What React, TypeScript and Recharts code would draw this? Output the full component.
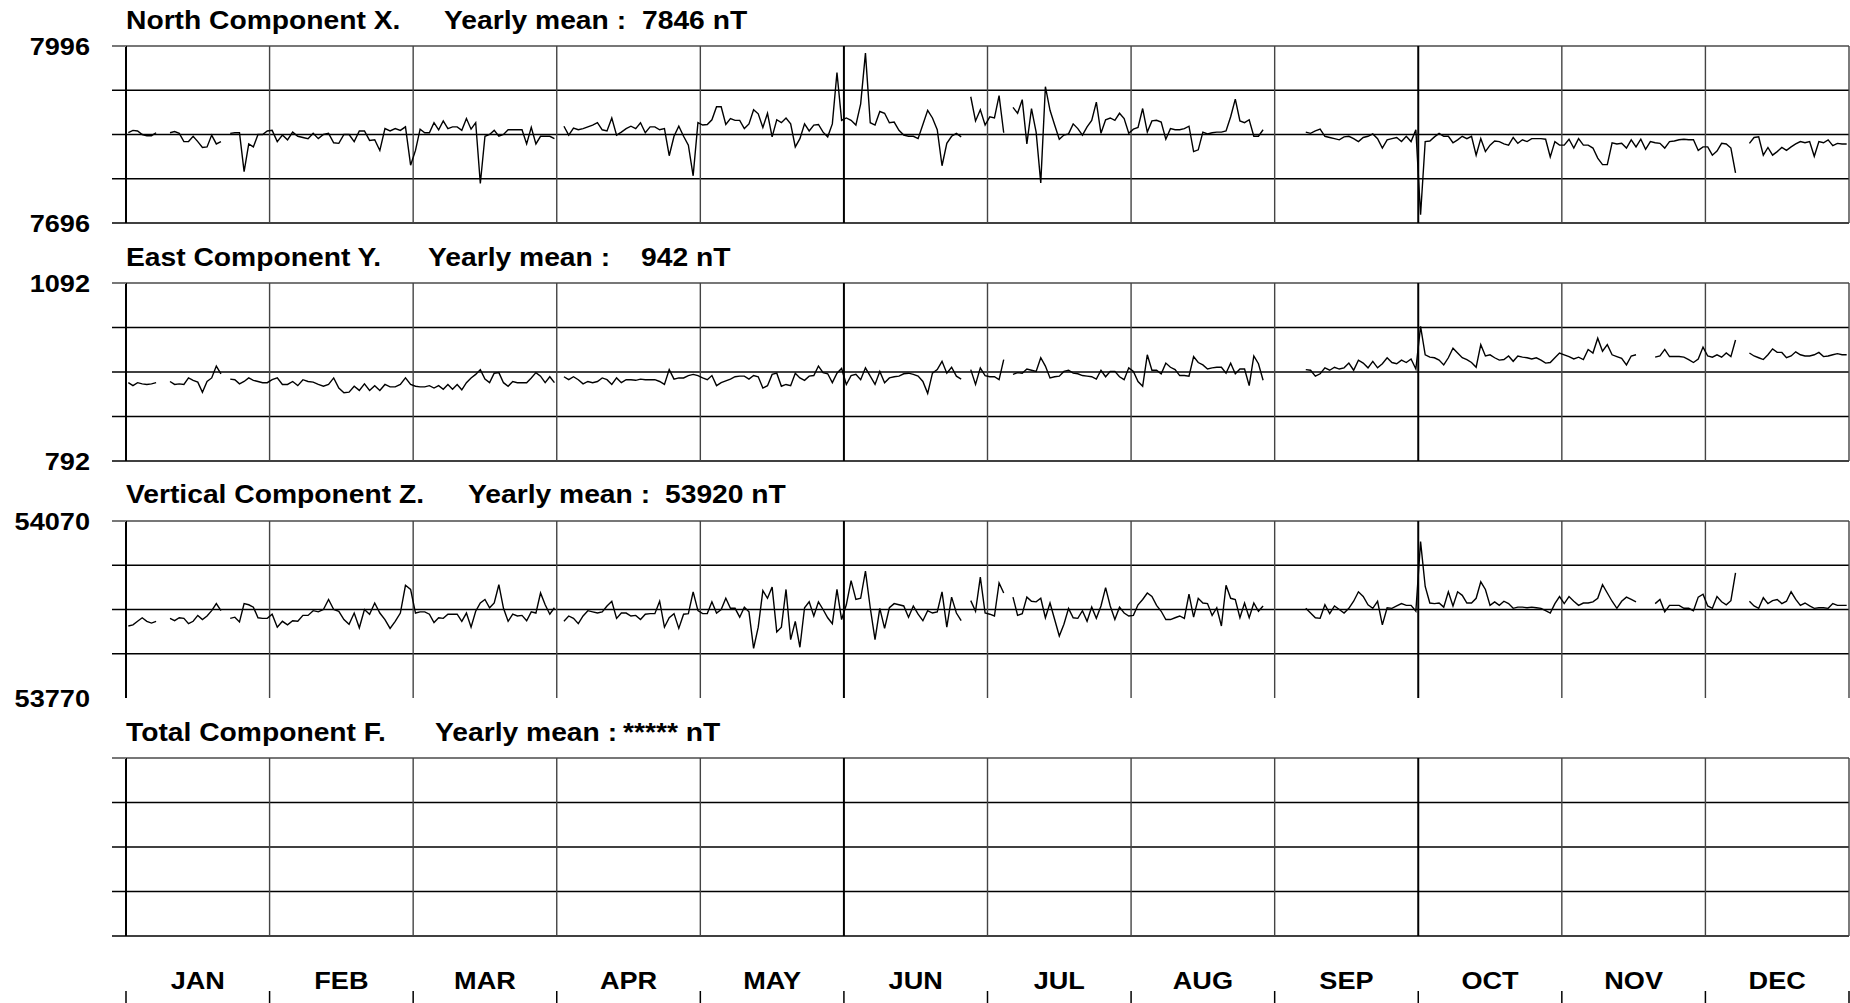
import React from 'react';
import { LineChart, Line, XAxis, YAxis, ReferenceLine } from 'recharts';

// ---------------- data ----------------
const MONTHS = ['JAN', 'FEB', 'MAR', 'APR', 'MAY', 'JUN', 'JUL', 'AUG', 'SEP', 'OCT', 'NOV', 'DEC'];
const DAYS_IN_MONTH = [31, 28, 31, 30, 31, 30, 31, 31, 30, 31, 30, 31];

const TITLES = ['North Component X.', 'East Component Y.', 'Vertical Component Z.', 'Total Component F.'];
const MEAN_LABEL = 'Yearly mean :';
const MEANS = ['7846 nT', '942 nT', '53920 nT', '***** nT'];

const X_SCALE = [7696, 7771, 7846, 7921, 7996];
const Y_SCALE = [792, 867, 942, 1017, 1092];
const Z_SCALE = [53770, 53845, 53920, 53995, 54070];
const F_SCALE = [0, 1, 2, 3, 4];

const N = null;

// daily means, North component X (nT)
const northX: (number | null)[] = [
  // JAN
  7849, 7853, 7852, 7846, 7844, 7844, 7849, N, N, 7849, 7851, 7848, 7834, 7834, 7843, 7834, 7824, 7825, 7845, 7830, 7834, N, 7848, 7849, 7849, 7783, 7830, 7825, 7846, 7846, 7852,
  // FEB
  7853, 7834, 7845, 7837, 7850, 7843, 7841, 7839, 7848, 7839, 7846, 7848, 7832, 7831, 7846, 7846, 7834, 7852, 7852, 7836, 7837, 7819, 7856, 7852, 7856, 7853, 7859, 7794,
  // MAR
  7819, 7855, 7849, 7849, 7866, 7854, 7869, 7856, 7859, 7859, 7853, 7873, 7855, 7866, 7763, 7843, 7846, 7853, 7843, 7846, 7854, 7854, 7854, 7854, 7830, 7858, 7830, 7843, 7843, 7843, 7839,
  // APR
  N, 7860, 7845, 7857, 7854, 7856, 7859, 7862, 7866, 7854, 7852, 7874, 7845, 7850, 7856, 7860, 7856, 7866, 7849, 7859, 7859, 7854, 7856, 7810, 7843, 7860, 7843, 7828, 7776, 7866,
  // MAY
  7862, 7863, 7871, 7893, 7893, 7863, 7873, 7870, 7870, 7856, 7864, 7888, 7881, 7858, 7882, 7842, 7871, 7866, 7874, 7864, 7825, 7839, 7864, 7852, 7862, 7863, 7850, 7842, 7864, 7951, 7870,
  // JUN
  7874, 7870, 7862, 7898, 7984, 7866, 7862, 7885, 7882, 7866, 7867, 7853, 7845, 7843, 7843, 7839, 7863, 7887, 7874, 7854, 7793, 7831, 7843, 7848, 7842, N, 7910, 7869, 7888, 7862,
  // JUL
  7876, 7874, 7912, 7849, N, 7892, 7882, 7905, 7830, 7890, 7850, 7764, 7927, 7887, 7862, 7838, 7845, 7847, 7864, 7856, 7845, 7859, 7870, 7901, 7848, 7871, 7874, 7870, 7882, 7873, 7848,
  // AUG
  7855, 7858, 7890, 7850, 7869, 7870, 7867, 7838, 7856, 7854, 7854, 7856, 7860, 7817, 7820, 7850, 7847, 7849, 7850, 7850, 7852, 7876, 7906, 7869, 7866, 7871, 7843, 7843, 7854, N, N,
  // SEP
  N, N, N, N, N, N, 7850, 7848, 7852, 7855, 7843, 7841, 7839, 7837, 7842, 7843, 7839, 7834, 7841, 7843, 7847, 7839, 7823, 7837, 7839, 7841, 7834, 7843, 7834, 7854,
  // OCT
  7710, 7834, 7835, 7842, 7848, 7843, 7843, 7832, 7837, 7843, 7839, 7843, 7811, 7839, 7817, 7828, 7835, 7834, 7830, 7828, 7841, 7831, 7837, 7834, 7839, 7839, 7839, 7838, 7808, 7834, 7828,
  // NOV
  7828, 7838, 7823, 7839, 7828, 7828, 7823, 7806, 7795, 7795, 7832, 7830, 7831, 7823, 7837, 7825, 7838, 7821, 7834, 7832, 7831, 7823, 7834, 7835, 7837, 7838, 7837, 7837, 7819, 7825,
  // DEC
  7825, 7811, 7818, 7831, 7830, 7823, 7781, N, N, 7831, 7841, 7842, 7811, 7824, 7811, 7817, 7824, 7819, 7825, 7830, 7834, 7832, 7834, 7809, 7834, 7832, 7837, 7827, 7831, 7830, 7830,
];

// daily means, East component Y (nT)
const eastY: (number | null)[] = [
  // JAN
  924, 919, 924, 922, 921, 922, 924, N, N, 926, 921, 922, 921, 932, 928, 925, 908, 926, 932, 952, 939, N, 930, 929, 922, 926, 932, 928, 926, 924, 924,
  // FEB
  929, 932, 921, 921, 926, 919, 929, 926, 925, 921, 918, 921, 932, 915, 907, 908, 918, 911, 922, 911, 919, 911, 921, 917, 917, 921, 932, 921,
  // MAR
  918, 917, 917, 919, 915, 919, 913, 921, 913, 921, 912, 924, 932, 938, 946, 930, 924, 940, 941, 924, 918, 926, 924, 924, 924, 932, 941, 935, 924, 934, 924,
  // APR
  N, 934, 929, 934, 929, 922, 926, 924, 926, 932, 929, 921, 932, 924, 929, 929, 928, 930, 929, 929, 929, 926, 921, 946, 930, 932, 932, 936, 938, 936,
  // MAY
  932, 929, 936, 919, 924, 927, 930, 934, 935, 935, 930, 936, 934, 915, 919, 938, 940, 918, 921, 919, 940, 932, 928, 935, 936, 952, 941, 939, 924, 940, 948,
  // JUN
  921, 936, 938, 929, 949, 935, 921, 943, 924, 932, 934, 935, 939, 940, 938, 935, 926, 906, 940, 946, 960, 940, 950, 935, 930, N, 946, 921, 949, 936,
  // JUL
  934, 934, 929, 963, N, 938, 941, 940, 947, 945, 943, 966, 952, 932, 934, 935, 943, 945, 940, 939, 936, 935, 934, 930, 945, 934, 943, 943, 934, 929, 949,
  // AUG
  943, 926, 918, 971, 945, 945, 939, 957, 950, 946, 936, 936, 935, 968, 958, 954, 947, 949, 950, 950, 940, 957, 939, 947, 947, 919, 969, 956, 928, N, N,
  // SEP
  N, N, N, N, N, N, 946, 945, 935, 939, 949, 945, 950, 947, 949, 957, 945, 962, 957, 949, 960, 949, 956, 966, 958, 956, 962, 958, 964, 947,
  // OCT
  1019, 971, 967, 966, 962, 954, 966, 982, 974, 966, 963, 958, 950, 988, 969, 971, 966, 962, 963, 969, 960, 969, 967, 966, 964, 966, 962, 957, 958, 966, 974,
  // NOV
  971, 968, 964, 967, 963, 980, 974, 999, 977, 988, 971, 968, 965, 954, 969, 971, N, N, N, 967, 969, 980, 968, 968, 968, 967, 963, 958, 964, 984,
  // DEC
  969, 967, 971, 967, 974, 968, 996, N, N, 974, 969, 966, 963, 971, 981, 975, 975, 966, 969, 976, 971, 969, 969, 971, 975, 968, 969, 971, 973, 971, 971,
];

// daily means, Vertical component Z (nT)
const verticalZ: (number | null)[] = [
  // JAN
  53892, 53894, 53900, 53906, 53900, 53897, 53900, N, N, 53905, 53901, 53906, 53905, 53896, 53900, 53910, 53903, 53909, 53918, 53930, 53918, N, 53905, 53907, 53899, 53930, 53928, 53924, 53906, 53905, 53905,
  // FEB
  53912, 53890, 53900, 53894, 53901, 53900, 53910, 53910, 53918, 53916, 53920, 53937, 53920, 53917, 53903, 53895, 53914, 53889, 53920, 53912, 53931, 53914, 53903, 53888, 53900, 53914, 53961, 53954,
  // MAR
  53914, 53916, 53916, 53912, 53898, 53906, 53905, 53912, 53912, 53912, 53900, 53914, 53890, 53917, 53931, 53937, 53923, 53931, 53962, 53922, 53900, 53912, 53909, 53910, 53901, 53916, 53914, 53948, 53928, 53912, 53923,
  // APR
  N, 53900, 53909, 53905, 53896, 53909, 53918, 53916, 53914, 53916, 53926, 53934, 53905, 53914, 53914, 53909, 53910, 53903, 53912, 53913, 53913, 53934, 53890, 53906, 53913, 53888, 53912, 53913, 53950, 53918,
  // MAY
  53913, 53913, 53933, 53914, 53920, 53939, 53922, 53922, 53907, 53924, 53916, 53854, 53890, 53952, 53939, 53958, 53882, 53890, 53954, 53869, 53900, 53856, 53923, 53933, 53909, 53933, 53920, 53906, 53896, 53954, 53903,
  // JUN
  53928, 53969, 53937, 53939, 53985, 53923, 53869, 53922, 53888, 53923, 53930, 53928, 53926, 53907, 53926, 53912, 53901, 53918, 53914, 53916, 53950, 53890, 53941, 53914, 53901, N, 53935, 53917, 53975, 53914,
  // JUL
  53912, 53909, 53965, 53948, N, 53941, 53910, 53913, 53941, 53934, 53933, 53939, 53906, 53931, 53903, 53875, 53895, 53922, 53906, 53905, 53918, 53900, 53924, 53905, 53926, 53957, 53926, 53903, 53924, 53914, 53909,
  // AUG
  53910, 53928, 53937, 53948, 53942, 53927, 53917, 53903, 53903, 53906, 53909, 53905, 53946, 53907, 53939, 53931, 53930, 53910, 53923, 53892, 53961, 53939, 53937, 53906, 53931, 53906, 53931, 53917, 53926, N, N,
  // SEP
  N, N, N, N, N, N, 53922, 53914, 53906, 53905, 53928, 53913, 53926, 53920, 53914, 53922, 53934, 53950, 53942, 53928, 53922, 53934, 53894, 53923, 53922, 53926, 53930, 53927, 53927, 53917,
  // OCT
  54035, 53959, 53931, 53930, 53931, 53924, 53950, 53926, 53950, 53944, 53931, 53931, 53939, 53967, 53954, 53927, 53933, 53927, 53934, 53930, 53922, 53924, 53924, 53923, 53924, 53923, 53922, 53918, 53914, 53930, 53942,
  // NOV
  53930, 53942, 53934, 53927, 53931, 53931, 53933, 53939, 53962, 53948, 53934, 53922, 53934, 53941, 53937, 53933, N, N, N, 53930, 53937, 53916, 53927, 53927, 53927, 53922, 53922, 53918, 53941, 53946,
  // DEC
  53926, 53922, 53942, 53933, 53928, 53935, 53982, N, N, 53934, 53926, 53922, 53940, 53930, 53935, 53937, 53930, 53934, 53950, 53937, 53927, 53931, 53926, 53922, 53923, 53923, 53922, 53930, 53927, 53927, 53927,
];

// Total component F: no data recorded (shown as *****)
const totalF: (number | null)[] = [];

// ---------------- layout / style ----------------
const PAGE_W = 1850;
const PAGE_H = 1003;
const AXIS_W = 126;
const PAD = 12;
const SX = 1.13;
const FONT = '"Liberation Sans", Arial, Helvetica, sans-serif';
const FONT_SIZE = 24;
const TITLE_FONT_SIZE = 25;
const TOP_LINE = '#777';

type Pt = { t: number; v: number | null };

function buildSeries(values: (number | null)[]): Pt[] {
  const out: Pt[] = [];
  let i = 0;
  DAYS_IN_MONTH.forEach((n, m) => {
    for (let d = 0; d < n; d++) {
      const v = values[i];
      out.push({ t: m + (d + 0.5) / n, v: v === undefined ? null : v });
      i++;
    }
  });
  return out;
}

const boundaryTicks = MONTHS.map((_, i) => i).concat([MONTHS.length]);
const allXTicks: number[] = [];
boundaryTicks.forEach((b) => {
  allXTicks.push(b);
  if (b < MONTHS.length) allXTicks.push(b + 0.5);
});

function StretchText(props: {
  x: number;
  y: number;
  anchor?: string;
  dy?: string;
  size?: number;
  children: React.ReactNode;
}) {
  const { x, y, anchor = 'start', dy, size = FONT_SIZE, children } = props;
  return (
    <text
      transform={`translate(${x},${y}) scale(${SX},1)`}
      textAnchor={anchor as any}
      dy={dy}
      fontFamily={FONT}
      fontWeight="bold"
      fontSize={size}
      fill="#000"
    >
      {children}
    </text>
  );
}

const makeYTick = (scale: number[], showLabels: boolean, hideBottom: boolean) => (props: any) => {
  const { x, y, payload } = props;
  const v = payload.value;
  const isTop = v === scale[scale.length - 1];
  const isBottom = v === scale[0];
  const showLine = !(hideBottom && isBottom);
  const showLabel = showLabels && (isTop || isBottom);
  return (
    <g>
      {showLine && (
        <line
          x1={x + 22}
          x2={x + 36}
          y1={y}
          y2={y}
          stroke={isTop ? TOP_LINE : '#000'}
          strokeWidth={isTop ? 2 : 1.5}
        />
      )}
      {showLabel && (
        <StretchText x={x} y={y} anchor="end" dy="0.36em">
          {String(v)}
        </StretchText>
      )}
    </g>
  );
};

const MonthTick = (props: any) => {
  const { x, y, payload } = props;
  const v = payload.value as number;
  if (Number.isInteger(v)) {
    return <line x1={x} x2={x} y1={y + 55} y2={y + 67} stroke="#000" strokeWidth={1.5} />;
  }
  return (
    <StretchText x={x} y={y + 53} anchor="middle">
      {MONTHS[Math.floor(v)]}
    </StretchText>
  );
};

const HEAVY_BOUNDARIES = [0, 5, 9];

function Panel(props: {
  top: number;
  height: number;
  values: (number | null)[];
  scale: number[];
  showLabels: boolean;
  hideBottom?: boolean;
  withMonths?: boolean;
}) {
  const { top, height, values, scale, showLabels, hideBottom = false, withMonths = false } = props;
  const data = buildSeries(values);
  const chartTop = top - PAD;
  const axisH = PAGE_H - (top + height);
  const chartH = withMonths ? PAGE_H - chartTop : height + 2 * PAD;
  return (
    <div style={{ position: 'absolute', left: 0, top: chartTop }}>
      <LineChart
        width={PAGE_W}
        height={chartH}
        data={data}
        margin={{ top: PAD, right: 1, bottom: withMonths ? 0 : PAD, left: 0 }}
      >
        <XAxis
          dataKey="t"
          type="number"
          domain={[0, 12]}
          ticks={allXTicks}
          interval={0}
          hide={!withMonths}
          height={withMonths ? axisH : 0}
          axisLine={false}
          tickLine={false}
          tickSize={0}
          tickMargin={0}
          tick={<MonthTick />}
          allowDataOverflow
        />
        <YAxis
          type="number"
          domain={[scale[0], scale[scale.length - 1]]}
          ticks={scale}
          interval={0}
          width={AXIS_W}
          axisLine={false}
          tickLine={false}
          tickSize={0}
          tickMargin={36}
          tick={makeYTick(scale, showLabels, hideBottom)}
          allowDataOverflow
        />
        {scale.map((s, i) => {
          if (hideBottom && i === 0) return null;
          const isTop = i === scale.length - 1;
          return (
            <ReferenceLine
              key={'h' + s}
              y={s}
              stroke={isTop ? TOP_LINE : '#000'}
              strokeWidth={isTop ? 2 : 1.5}
              ifOverflow="visible"
            />
          );
        })}
        {boundaryTicks.map((b) => (
          <ReferenceLine
            key={'v' + b}
            x={b}
            stroke={HEAVY_BOUNDARIES.includes(b) ? '#000' : '#444'}
            strokeWidth={HEAVY_BOUNDARIES.includes(b) ? 2 : 1.4}
            ifOverflow="visible"
          />
        ))}
        <Line
          type="linear"
          dataKey="v"
          stroke="#000"
          strokeWidth={1.4}
          dot={false}
          connectNulls={false}
          isAnimationActive={false}
        />
      </LineChart>
    </div>
  );
}

// title layout: baseline, "Yearly mean" x, value x
const TITLE_BASELINES = [29, 266, 503, 741];
const MEAN_LABEL_X = [444, 428, 468, 435];
const MEAN_VALUE_X = [642, 641, 665, 623];

export default function App() {
  return (
    <div
      style={{
        position: 'absolute',
        left: 0,
        top: 0,
        width: PAGE_W,
        height: PAGE_H,
        background: '#fff',
        overflow: 'hidden',
      }}
    >
      <Panel top={46} height={177} values={northX} scale={X_SCALE} showLabels />
      <Panel top={283} height={178} values={eastY} scale={Y_SCALE} showLabels />
      <Panel top={521} height={177} values={verticalZ} scale={Z_SCALE} showLabels hideBottom />
      <Panel top={758} height={178} values={totalF} scale={F_SCALE} showLabels={false} withMonths />
      <svg
        width={PAGE_W}
        height={PAGE_H}
        style={{ position: 'absolute', left: 0, top: 0, pointerEvents: 'none' }}
      >
        {TITLES.map((t, i) => (
          <g key={t}>
            <StretchText x={AXIS_W} y={TITLE_BASELINES[i]} size={TITLE_FONT_SIZE}>
              {t}
            </StretchText>
            <StretchText x={MEAN_LABEL_X[i]} y={TITLE_BASELINES[i]} size={TITLE_FONT_SIZE}>
              {MEAN_LABEL}
            </StretchText>
            <StretchText x={MEAN_VALUE_X[i]} y={TITLE_BASELINES[i]} size={TITLE_FONT_SIZE}>
              {MEANS[i]}
            </StretchText>
          </g>
        ))}
      </svg>
    </div>
  );
}
